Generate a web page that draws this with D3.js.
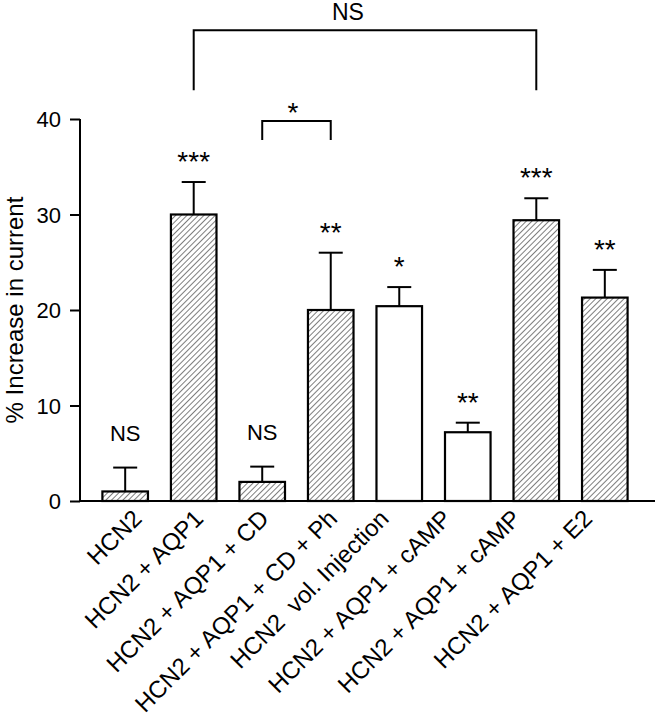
<!DOCTYPE html>
<html>
<head>
<meta charset="utf-8">
<script src="https://cdn.jsdelivr.net/npm/d3@7/dist/d3.min.js"></script>
<style>
  body { margin: 0; background: #fff; }
  svg { display: block; font-family: "Liberation Sans", Arial, sans-serif; }
</style>
</head>
<body>
<svg id="chart" width="656" height="719"></svg>
<script>
// data
var categories = ["HCN2", "HCN2 + AQP1", "HCN2 + AQP1 + CD", "HCN2 + AQP1 + CD + Ph",
  "HCN2  vol. Injection", "HCN2 + AQP1 + cAMP", "HCN2 + AQP1 + cAMP", "HCN2 + AQP1 + E2"];
var means = [1.0, 30.0, 2.0, 20.0, 20.4, 7.2, 29.4, 21.3];
var errors = [2.5, 3.4, 1.6, 6.0, 2.0, 1.0, 2.3, 2.9];
var hatched = [true, true, true, true, false, false, true, true];
var marks = ["NS", "***", "NS", "**", "*", "**", "***", "**"];
var yTicks = [0, 10, 20, 30, 40];
// comparison brackets: bar indexes, level of the bar and leg bottom (in % units)
var bracketFrom = [1, 2];
var bracketTo = [6, 3];
var bracketLevel = [49.3, 39.8];
var bracketLeg = [43.0, 37.8];
var bracketText = ["NS", "*"];

// layout
var x0 = 80, x1 = 655, yBase = 501, yTop = 119;
var labelNudge = [18, 11, 8, 8, -9, -15, -14, -11]; // hand placed labels in the original

var svg = d3.select("#chart");

var x = d3.scaleBand()
  .domain(d3.range(categories.length))
  .range([x0, 650])
  .paddingInner(0.335)
  .paddingOuter(0.327);

var y = d3.scaleLinear().domain([0, 40]).range([yBase, yTop]);

/* hatch pattern */
var defs = svg.append("defs");
defs.append("pattern")
  .attr("id", "hatch")
  .attr("patternUnits", "userSpaceOnUse")
  .attr("width", 4)
  .attr("height", 4)
  .attr("patternTransform", "rotate(45)")
  .append("line")
  .attr("x1", 0).attr("y1", 0)
  .attr("x2", 0).attr("y2", 4)
  .style("stroke", "#111")
  .style("stroke-width", 1.1);

/* bars */
var bars = svg.append("g").selectAll("g")
  .data(means)
  .enter()
  .append("g");

bars.append("line") // error bar (upper only)
  .attr("x1", function(d, i) { return x(i) + x.bandwidth() / 2; })
  .attr("x2", function(d, i) { return x(i) + x.bandwidth() / 2; })
  .attr("y1", function(d) { return y(d); })
  .attr("y2", function(d, i) { return y(d + errors[i]); })
  .style("stroke", "#000")
  .style("stroke-width", 2);

bars.append("line") // cap
  .attr("x1", function(d, i) { return x(i) + x.bandwidth() / 2 - 12; })
  .attr("x2", function(d, i) { return x(i) + x.bandwidth() / 2 + 12; })
  .attr("y1", function(d, i) { return y(d + errors[i]); })
  .attr("y2", function(d, i) { return y(d + errors[i]); })
  .style("stroke", "#000")
  .style("stroke-width", 2);

bars.append("rect")
  .attr("x", function(d, i) { return x(i); })
  .attr("y", function(d) { return y(d); })
  .attr("width", x.bandwidth())
  .attr("height", function(d) { return yBase - y(d); })
  .style("fill", function(d, i) { return hatched[i] ? "url(#hatch)" : "#fff"; })
  .style("stroke", "#000")
  .style("stroke-width", 2.2);

/* significance marks above each bar */
bars.append("text")
  .attr("x", function(d, i) { return x(i) + x.bandwidth() / 2; })
  .attr("y", function(d, i) {
    var cap = y(d + errors[i]);
    return marks[i] == "NS" ? cap - 27 : cap - 11;
  })
  .attr("text-anchor", "middle")
  .style("font-size", function(d, i) { return marks[i] == "NS" ? "22px" : "28px"; })
  .text(function(d, i) { return marks[i]; });

/* axes */
var yAxis = d3.axisLeft(y)
  .tickValues(yTicks)
  .tickSize(10)
  .tickPadding(9);

var gy = svg.append("g")
  .attr("transform", "translate(" + x0 + ",0)")
  .call(yAxis);
gy.select(".domain").attr("d", "M0," + yBase + "V" + yTop).style("stroke-width", 2);
gy.selectAll(".tick line").style("stroke-width", 2);
gy.selectAll(".tick text")
  .style("font-size", "22px")
  .style("font-family", "Liberation Sans, Arial, sans-serif")
  .attr("dy", "0.36em");

svg.append("line")
  .attr("x1", x0 - 1).attr("x2", x1)
  .attr("y1", yBase).attr("y2", yBase)
  .style("stroke", "#000")
  .style("stroke-width", 2);

/* category labels, rotated */
svg.append("g").selectAll("text")
  .data(categories)
  .enter()
  .append("text")
  .attr("transform", function(d, i) {
    return "translate(" + (x(i) + x.bandwidth() / 2 + labelNudge[i]) + "," + (yBase + 19) + ") rotate(-45)";
  })
  .attr("text-anchor", "end")
  .style("font-size", "24px")
  .style("white-space", "pre")
  .text(function(d) { return d; });

/* y title */
svg.append("text")
  .attr("transform", "translate(23," + ((yBase + yTop) / 2) + ") rotate(-90)")
  .attr("text-anchor", "middle")
  .style("font-size", "24px")
  .text("% Increase in current");

/* brackets */
var br = svg.append("g").selectAll("g")
  .data(bracketText)
  .enter()
  .append("g");

br.append("path")
  .attr("d", function(d, i) {
    var a = x(bracketFrom[i]) + x.bandwidth() / 2;
    var b = x(bracketTo[i]) + x.bandwidth() / 2;
    return "M" + a + "," + y(bracketLeg[i]) + "V" + y(bracketLevel[i]) +
      "H" + b + "V" + y(bracketLeg[i]);
  })
  .style("fill", "none")
  .style("stroke", "#000")
  .style("stroke-width", 2);

br.append("text")
  .attr("x", function(d, i) {
    var a = x(bracketFrom[i]) + x.bandwidth() / 2;
    var b = x(bracketTo[i]) + x.bandwidth() / 2;
    return a + (b - a) * 0.45;
  })
  .attr("y", function(d, i) { return d == "NS" ? y(bracketLevel[i]) - 10 : y(bracketLevel[i]) + 1; })
  .attr("text-anchor", "middle")
  .style("font-size", function(d) { return d == "NS" ? "23px" : "28px"; })
  .text(function(d) { return d; });
</script>
</body>
</html>
